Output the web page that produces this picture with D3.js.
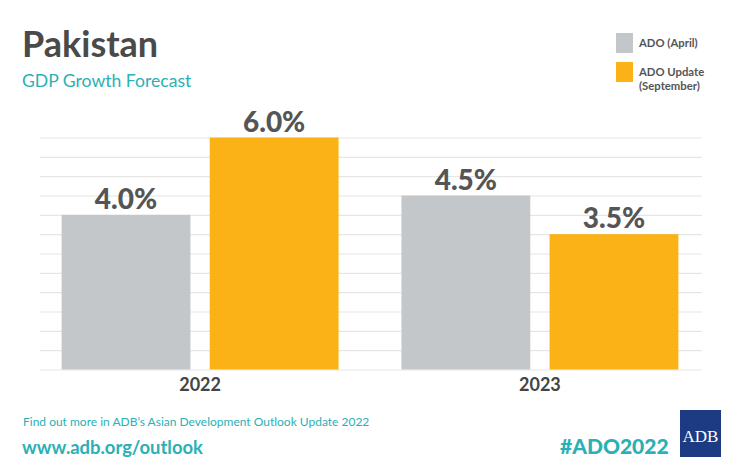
<!DOCTYPE html>
<html>
<head>
<meta charset="utf-8">
<script src="https://cdn.jsdelivr.net/npm/d3@7"></script>
<style>
  html, body { margin: 0; padding: 0; background: #fff; }
  svg { display: block; font-family: Lato, "Open Sans", sans-serif; }
</style>
</head>
<body>
<svg id="chart" width="740" height="470"></svg>
<script>
const years = ["2022", "2023"];
const seriesNames = ["ADO (April)", "ADO Update (September)"];
const adoApril = [4.0, 4.5];
const adoUpdate = [6.0, 3.5];
const valueLabels = [["4.0%", "6.0%"], ["4.5%", "3.5%"]];
const gridTicks = [0, 0.5, 1, 1.5, 2, 2.5, 3, 3.5, 4, 4.5, 5, 5.5, 6];

const colors = ["#c4c7ca", "#fbb217"];
const teal = "#2bb0b5";

const svg = d3.select("#chart");

// Title
svg.append("text").attr("x", 22).attr("y", 57)
  .attr("font-size", 36).attr("font-weight", 700).attr("fill", "#4a4a4a")
  .text("Pakistan");
svg.append("text").attr("x", 22).attr("y", 87)
  .attr("font-size", 17.6).attr("font-weight", 400).attr("fill", teal)
  .text("GDP Growth Forecast");

// Scales
const y = d3.scaleLinear().domain([0, 6]).range([369.5, 137.5]);
const x0 = d3.scaleBand().domain(years).range([30, 710]).paddingInner(0.185).paddingOuter(0.093);
const x1 = d3.scaleBand().domain(seriesNames).range([0, x0.bandwidth()]).paddingInner(0.13).paddingOuter(0);

// Gridlines via axis
svg.append("g").attr("class", "grid").attr("transform", "translate(40,0)")
  .call(d3.axisRight(y).tickValues(gridTicks).tickSize(662).tickFormat(""))
  .call(s => s.select(".domain").remove())
  .call(s => s.selectAll("line").attr("stroke", "#e6e6e6").attr("stroke-width", 1.2));

// Bars
const data = years.map((yr, i) => ({
  year: yr,
  vals: [
    { s: seriesNames[0], v: adoApril[i], label: valueLabels[i][0], c: colors[0] },
    { s: seriesNames[1], v: adoUpdate[i], label: valueLabels[i][1], c: colors[1] }
  ]
}));

const groups = svg.append("g").selectAll("g").data(data).join("g")
  .attr("transform", d => `translate(${x0(d.year)},0)`);

groups.selectAll("rect").data(d => d.vals).join("rect")
  .attr("x", d => x1(d.s))
  .attr("y", d => y(d.v))
  .attr("width", x1.bandwidth())
  .attr("height", d => y(0) - y(d.v))
  .attr("fill", d => d.c);

groups.selectAll("text.val").data(d => d.vals).join("text")
  .attr("class", "val")
  .attr("x", d => x1(d.s) + x1.bandwidth() / 2)
  .attr("y", d => y(d.v) - 6)
  .attr("text-anchor", "middle")
  .attr("font-size", 28).attr("font-weight", 900).attr("fill", "#555")
  .text(d => d.label);

// X axis labels
const xAxis = d3.axisBottom(x0).tickSize(0).tickPadding(0);
svg.append("g").attr("transform", "translate(0,378)")
  .call(xAxis)
  .call(s => s.select(".domain").remove())
  .call(s => s.selectAll("text").attr("font-size", 18).attr("font-weight", 700)
    .attr("fill", "#444").style("font-family", "Lato, sans-serif"));

// Legend
const leg = svg.append("g");
const legendLines = [["ADO (April)"], ["ADO Update", "(September)"]];
const legY = [33, 62];
seriesNames.forEach((s, i) => {
  leg.append("rect").attr("x", 616).attr("y", legY[i]).attr("width", 17).attr("height", 20).attr("fill", colors[i]);
  legendLines[i].forEach((t, j) => {
    leg.append("text").attr("x", 639).attr("y", legY[i] + 14 + j * 13.5)
      .attr("font-size", 11.3).attr("font-weight", 700).attr("fill", "#555").text(t);
  });
});

// Footer
svg.append("text").attr("x", 23).attr("y", 426)
  .attr("font-size", 12).attr("fill", teal)
  .text("Find out more in ADB\u2019s Asian Development Outlook Update 2022");
svg.append("text").attr("x", 22).attr("y", 454)
  .attr("font-size", 18.4).attr("font-weight", 700).attr("fill", teal)
  .text("www.adb.org/outlook");
svg.append("text").attr("x", 560).attr("y", 454)
  .attr("font-size", 21).attr("font-weight", 900).attr("fill", teal)
  .text("#ADO2022");

// Logo
svg.append("rect").attr("x", 680).attr("y", 410).attr("width", 41).attr("height", 47).attr("fill", "#1d3b82");
svg.append("text").attr("x", 700.5).attr("y", 442).attr("text-anchor", "middle")
  .style("font-family", "'Liberation Serif', 'DejaVu Serif', serif")
  .attr("font-size", 17).attr("fill", "#fff").text("ADB");
</script>
</body>
</html>
